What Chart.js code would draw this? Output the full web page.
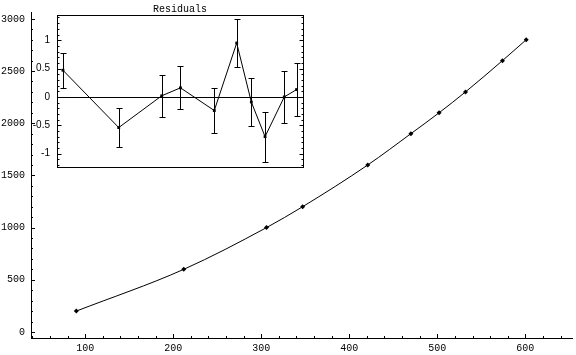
<!DOCTYPE html>
<html>
<head>
<meta charset="utf-8">
<script src="https://cdn.jsdelivr.net/npm/chart.js@4"></script>
<style>
  body { margin: 0; background: #fff; }
  #wrap { position: relative; width: 576px; height: 355px; }
  canvas { position: absolute; left: 0; top: 0; }
</style>
</head>
<body>
<div id="wrap">
  <canvas id="mainChart" width="576" height="355"></canvas>
  <canvas id="residChart" width="360" height="180"></canvas>
</div>
<script>
const xValues = [90, 212, 306, 347, 421, 470, 502, 532, 574, 601];
const yValues = [200, 600, 1000, 1200, 1600, 1900, 2100, 2300, 2600, 2800];
const residuals = [0.47, -0.54, 0.02, 0.16, -0.24, 0.95, -0.09, -0.70, 0.0, 0.13];
const residErrors = [0.31, 0.34, 0.37, 0.38, 0.40, 0.415, 0.43, 0.44, 0.455, 0.47];
const xTickLabels = [100, 200, 300, 400, 500, 600];
const yTickLabels = [0, 500, 1000, 1500, 2000, 2500, 3000];
const residTickLabels = [-1, -0.5, 0, 0.5, 1];

const monoFont = { family: 'Liberation Mono', size: 10 };
// the inset labels sit close to the main axis labels, so use a narrower face
const insetFont = { family: 'Liberation Sans', size: 10 };

// mathematica style ticks, pointing into the plot
const inwardTicks = {
  id: 'inwardTicks',
  afterDraw(chart) {
    const { ctx, chartArea, scales: { x, y } } = chart;
    ctx.save();
    ctx.strokeStyle = '#000';
    ctx.lineWidth = 1;
    ctx.beginPath();
    for (let v = 40; v <= 640; v += 20) {
      const px = Math.round(x.getPixelForValue(v)) + 0.5;
      const len = v % 100 === 0 ? 4 : 2;
      ctx.moveTo(px, chartArea.bottom);
      ctx.lineTo(px, chartArea.bottom - len);
    }
    for (let v = 0; v <= 3000; v += 100) {
      const py = Math.round(y.getPixelForValue(v)) + 0.5;
      const len = v % 500 === 0 ? 4 : 2;
      ctx.moveTo(chartArea.left, py);
      ctx.lineTo(chartArea.left + len, py);
    }
    ctx.stroke();
    ctx.restore();
  }
};

new Chart(document.getElementById('mainChart'), {
  type: 'line',
  data: {
    datasets: [{
      data: xValues.map((v, i) => ({ x: v, y: yValues[i] })),
      borderColor: '#000',
      backgroundColor: '#000',
      borderWidth: 1,
      pointStyle: 'rectRot',
      pointRadius: 2.5,
      pointBorderWidth: 0,
      cubicInterpolationMode: 'monotone'
    }]
  },
  options: {
    responsive: false,
    animation: false,
    devicePixelRatio: 1,
    layout: { padding: 0 },
    plugins: { legend: { display: false }, tooltip: { enabled: false } },
    scales: {
      x: {
        type: 'linear',
        min: 38.5,
        max: 653,
        afterBuildTicks: s => { s.ticks = xTickLabels.map(v => ({ value: v })); },
        afterFit: s => { s.height = 17; },
        grid: { display: false, drawTicks: false },
        border: { display: true, color: '#000', width: 1 },
        ticks: { font: monoFont, color: '#000', padding: 4, maxRotation: 0, autoSkip: false, callback: v => String(v) }
      },
      y: {
        type: 'linear',
        min: -58,
        max: 3066,
        afterBuildTicks: s => { s.ticks = yTickLabels.map(v => ({ value: v })); },
        afterFit: s => { s.width = 31; },
        grid: { display: false, drawTicks: false },
        border: { display: true, color: '#000', width: 1 },
        ticks: { font: monoFont, color: '#000', padding: 6, autoSkip: false, callback: v => String(v) }
      }
    }
  },
  plugins: [inwardTicks]
});

// frame, zero line, ticks and error bars for the residuals inset
const residFrame = {
  id: 'residFrame',
  beforeDatasetsDraw(chart) {
    const { ctx, chartArea: a, scales: { y } } = chart;
    ctx.save();
    ctx.fillStyle = '#fff';
    ctx.fillRect(a.left, a.top, a.right - a.left, a.bottom - a.top);
    ctx.strokeStyle = '#000';
    ctx.lineWidth = 1;
    const l = Math.round(a.left) + 0.5, r = Math.round(a.right) + 0.5;
    const t = Math.round(a.top) + 0.5, b = Math.round(a.bottom) + 0.5;
    ctx.strokeRect(l, t, r - l, b - t);
    ctx.beginPath();
    const zy = Math.round(y.getPixelForValue(0)) + 0.5;
    ctx.moveTo(l, zy);
    ctx.lineTo(r, zy);
    for (let k = -12; k <= 14; k++) {
      const py = Math.round(y.getPixelForValue(k / 10)) + 0.5;
      const len = k % 5 === 0 ? 4 : 2;
      ctx.moveTo(l, py); ctx.lineTo(l + len, py);
      ctx.moveTo(r, py); ctx.lineTo(r - len, py);
    }
    ctx.stroke();
    ctx.restore();
  },
  afterDatasetsDraw(chart) {
    const { ctx, scales: { x, y } } = chart;
    ctx.save();
    ctx.strokeStyle = '#000';
    ctx.lineWidth = 1;
    ctx.beginPath();
    residuals.forEach((r, i) => {
      const px = Math.round(x.getPixelForValue(xValues[i])) + 0.5;
      const top = Math.round(y.getPixelForValue(r + residErrors[i])) + 0.5;
      const bot = Math.round(y.getPixelForValue(r - residErrors[i])) + 0.5;
      ctx.moveTo(px, top); ctx.lineTo(px, bot);
      ctx.moveTo(px - 3, top); ctx.lineTo(px + 3, top);
      ctx.moveTo(px - 3, bot); ctx.lineTo(px + 3, bot);
    });
    ctx.stroke();
    ctx.restore();
  }
};

new Chart(document.getElementById('residChart'), {
  type: 'line',
  data: {
    datasets: [{
      data: xValues.map((v, i) => ({ x: v, y: residuals[i] })),
      borderColor: '#000',
      backgroundColor: '#000',
      borderWidth: 1,
      pointStyle: 'rect',
      pointRadius: 2,
      pointBorderWidth: 0,
      tension: 0
    }]
  },
  options: {
    responsive: false,
    animation: false,
    devicePixelRatio: 1,
    layout: { padding: { top: 0, right: 57, bottom: 12, left: 0 } },
    plugins: {
      legend: { display: false },
      tooltip: { enabled: false },
      title: {
        display: true,
        text: 'Residuals',
        fullSize: false,
        color: '#000',
        font: { family: 'Liberation Mono', size: 10, weight: 'normal' },
        padding: { top: 3, bottom: 0 }
      }
    },
    scales: {
      x: { type: 'linear', min: 77, max: 615, display: false },
      y: {
        type: 'linear',
        min: -1.235,
        max: 1.444,
        afterBuildTicks: s => { s.ticks = residTickLabels.map(v => ({ value: v })); },
        afterFit: s => { s.width = 57; },
        grid: { display: false, drawTicks: false },
        border: { display: false },
        ticks: { font: insetFont, color: '#000', padding: 7, autoSkip: false, callback: v => String(v) }
      }
    }
  },
  plugins: [residFrame]
});
</script>
</body>
</html>
